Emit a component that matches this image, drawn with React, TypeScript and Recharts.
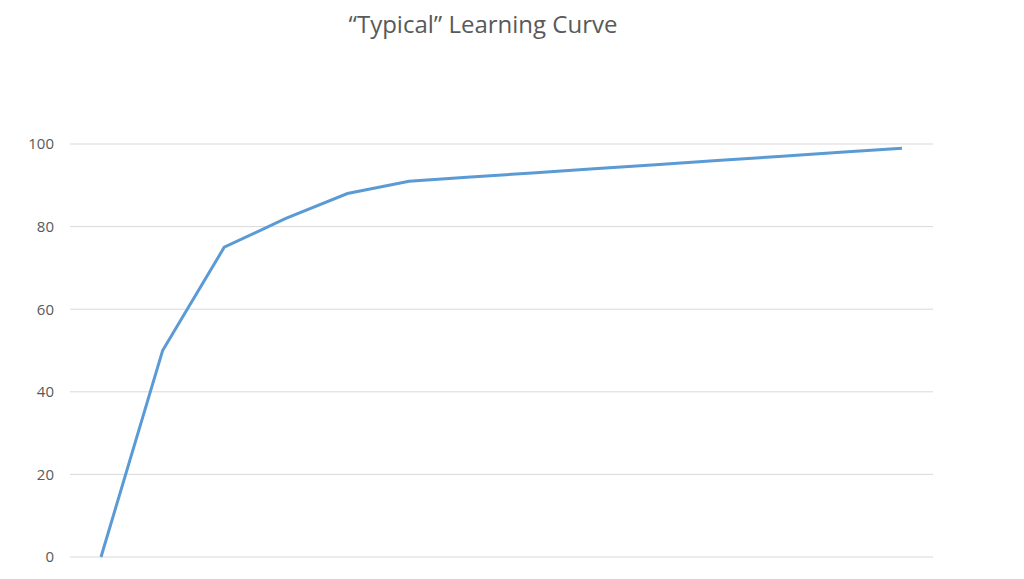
import React from "react";
import { LineChart, Line, XAxis, YAxis, CartesianGrid } from "recharts";

// Practice step index (unlabelled on the chart)
const steps: string[] = ["1", "2", "3", "4", "5", "6", "7", "8", "9", "10", "11", "12", "13", "14"];
// Proficiency score at each step
const proficiency: number[] = [0, 50, 75, 82, 88, 91, 92, 93, 94, 95, 96, 97, 98, 99];
const yTicks: number[] = [0, 20, 40, 60, 80, 100];

const data = steps.map((s, i) => ({ step: s, value: proficiency[i] }));

const FONT = "'Open Sans', 'Liberation Sans', sans-serif";

export default function App() {
  return (
    <div style={{ position: "absolute", left: 0, top: 0, width: 1024, height: 579, background: "#fff" }}>
      <div
        style={{
          position: "absolute",
          left: 0,
          width: 966,
          top: 7,
          textAlign: "center",
          fontFamily: FONT,
          fontSize: 24,
          color: "#595959",
        }}
      >
        “Typical” Learning Curve
      </div>
      <LineChart
        width={1024}
        height={579}
        data={data}
        margin={{ top: 144, right: 91, bottom: 22, left: 0 }}
      >
        <CartesianGrid vertical={false} stroke="#d9d9d9" strokeWidth={1} />
        <XAxis dataKey="step" hide padding={{ left: 31, right: 31 }} />
        <YAxis
          width={70}
          domain={[0, 100]}
          ticks={yTicks}
          axisLine={false}
          tickLine={false}
          tickSize={0}
          tickMargin={16}
          tick={{ fill: "#595959", fontSize: 15, fontFamily: FONT }}
        />
        <Line
          type="linear"
          dataKey="value"
          stroke="#5b9bd5"
          strokeWidth={3}
          dot={false}
          isAnimationActive={false}
        />
      </LineChart>
    </div>
  );
}
